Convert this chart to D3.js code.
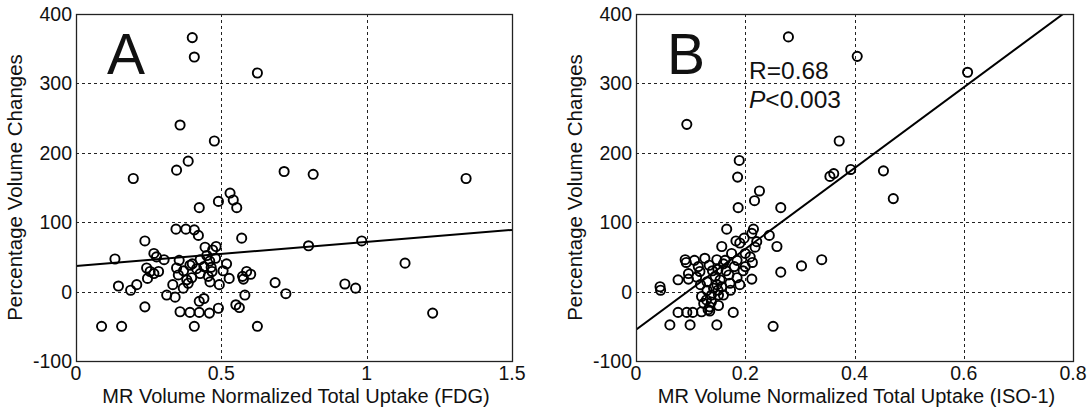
<!DOCTYPE html>
<html>
<head>
<meta charset="utf-8">
<script src="https://cdn.jsdelivr.net/npm/d3@7"></script>
<style>
  body { margin: 0; background: #fff; }
  svg { display: block; }
  text { font-family: Arial, "Liberation Sans", sans-serif; fill: #111; }
</style>
</head>
<body>
<svg id="chart" width="1090" height="409"></svg>
<script>
// panel A: FDG uptake vs percentage volume change
const fdgUptake = [0.40, 0.407, 0.624, 0.358, 0.476, 0.386, 0.346, 0.197, 0.716, 0.816,
    1.342, 0.53, 0.541, 0.553, 0.49, 0.424, 0.344, 0.378, 0.407, 0.421,
    0.57, 0.237, 0.444, 0.482, 0.80, 0.983, 0.134, 0.268, 0.277, 0.303,
    0.355, 0.427, 0.518, 0.243, 0.255, 0.268, 0.284, 0.246, 0.346, 0.352,
    0.392, 0.381, 0.386, 0.333, 0.369, 0.427, 0.46, 0.465, 0.468, 0.455,
    0.461, 0.493, 0.527, 0.573, 0.587, 0.601, 0.576, 0.685, 0.722, 0.581,
    0.925, 0.962, 1.132, 1.227, 0.146, 0.188, 0.209, 0.312, 0.341, 0.424,
    0.44, 0.55, 0.562, 0.49, 0.459, 0.424, 0.392, 0.358, 0.237, 0.088,
    0.157, 0.407, 0.624, 0.40, 0.415, 0.44, 0.48, 0.37, 0.398, 0.45,
    0.506, 0.47];
const fdgChange = [366, 338, 315, 240, 217, 188, 175, 163, 173, 169,
    163, 142, 132, 121, 130, 121, 90, 90, 89, 81,
    77, 73, 64, 65, 66, 73, 47, 55, 50, 46,
    45, 46, 40, 34, 29, 26, 29, 19, 34, 24,
    38, 17, 12, 10, 5, 26, 44, 35, 29, 22,
    14, 10, 19, 22, 29, 25, 18, 13, -3, -5,
    11, 5, 41, -31, 8, 2, 10, -5, -8, -14,
    -10, -19, -23, -24, -31, -30, -30, -29, -22, -50,
    -50, -50, -50, 40, 33, 36, 48, 30, 20, 52,
    30, 60];

// panel B: ISO-1 uptake vs percentage volume change
const isoUptake = [0.279, 0.405, 0.607, 0.093, 0.372, 0.189, 0.393, 0.453, 0.362, 0.355,
    0.186, 0.226, 0.471, 0.217, 0.187, 0.265, 0.166, 0.215, 0.212, 0.244,
    0.198, 0.183, 0.221, 0.258, 0.157, 0.218, 0.303, 0.34, 0.265, 0.09,
    0.092, 0.044, 0.045, 0.077, 0.096, 0.096, 0.126, 0.148, 0.111, 0.117,
    0.114, 0.209, 0.213, 0.20, 0.196, 0.212, 0.19, 0.062, 0.099, 0.148,
    0.251, 0.178, 0.077, 0.093, 0.104, 0.12, 0.135, 0.151, 0.16, 0.12,
    0.124, 0.129, 0.135, 0.132, 0.138, 0.151, 0.157, 0.172, 0.154, 0.134,
    0.14, 0.145, 0.13, 0.16, 0.165, 0.17, 0.18, 0.185, 0.175, 0.163,
    0.142, 0.148, 0.15, 0.13, 0.185, 0.19, 0.118, 0.173, 0.20, 0.138,
    0.15, 0.107];
const isoChange = [367, 339, 316, 241, 217, 189, 176, 174, 170, 166,
    165, 145, 134, 131, 121, 121, 90, 90, 84, 81,
    77, 73, 72, 65, 65, 64, 37, 46, 28, 46,
    42, 7, 2, 17, 18, 26, 48, 46, 21, 29,
    36, 50, 42, 36, 30, 18, 70, -48, -48, -48,
    -50, -30, -30, -30, -30, -29, -28, -20, -5, -7,
    -17, -12, -22, -26, -15, -5, 7, 12, 17, 38,
    30, 22, 14, 40, 30, 24, 36, 45, 55, 45,
    5, 10, 2, 2, 20, 10, 10, 2, 55, -5,
    32, 45];

// linear fits [intercept, slope]
const fdgFit = [37, 34.6];
const isoFit = [-55, 582];

const yTicks = [-100, 0, 100, 200, 300, 400];
const fdgTicks = [0, 0.5, 1, 1.5];
const isoTicks = [0, 0.2, 0.4, 0.6, 0.8];

const svg = d3.select("#chart");
const plotTop = 14, plotBottom = 361;

function drawPanel(opts) {
    const g = svg.append("g");
    const x = d3.scaleLinear().domain(opts.xDomain).range([opts.left, opts.right]);
    const y = d3.scaleLinear().domain([-100, 400]).range([plotBottom, plotTop]);

    const clipId = "clip" + opts.letter;
    g.append("clipPath").attr("id", clipId)
        .append("rect")
        .attr("x", opts.left).attr("y", plotTop)
        .attr("width", opts.right - opts.left).attr("height", plotBottom - plotTop);

    // dotted grid
    g.append("g").selectAll("line")
        .data(yTicks.slice(1, -1))
        .join("line")
        .attr("x1", opts.left).attr("x2", opts.right)
        .attr("y1", d => Math.round(y(d)) + 0.5).attr("y2", d => Math.round(y(d)) + 0.5)
        .attr("stroke", "#222").attr("stroke-width", 1).attr("stroke-dasharray", "3,3");
    g.append("g").selectAll("line")
        .data(opts.xTicks.slice(1, -1))
        .join("line")
        .attr("x1", d => Math.round(x(d)) + 0.5).attr("x2", d => Math.round(x(d)) + 0.5)
        .attr("y1", plotTop).attr("y2", plotBottom)
        .attr("stroke", "#222").attr("stroke-width", 1).attr("stroke-dasharray", "3,3");

    // points
    const pts = opts.xs.map((v, i) => [v, opts.ys[i]]);
    g.append("g").selectAll("circle")
        .data(pts)
        .join("circle")
        .attr("cx", d => x(d[0]))
        .attr("cy", d => y(d[1]))
        .attr("r", 4.6)
        .attr("fill", "none")
        .attr("stroke", "#000")
        .attr("stroke-width", 1.9);

    // fit line
    const fx = opts.xDomain;
    g.append("line")
        .attr("clip-path", `url(#${clipId})`)
        .attr("x1", x(fx[0])).attr("y1", y(opts.fit[0] + opts.fit[1] * fx[0]))
        .attr("x2", x(fx[1])).attr("y2", y(opts.fit[0] + opts.fit[1] * fx[1]))
        .attr("stroke", "#000").attr("stroke-width", 2);

    // box
    g.append("rect")
        .attr("x", opts.left + 0.5).attr("y", plotTop + 0.5)
        .attr("width", opts.right - opts.left).attr("height", plotBottom - plotTop)
        .attr("fill", "none").attr("stroke", "#222").attr("stroke-width", 1.3);

    // tick labels
    g.append("g").selectAll("text")
        .data(yTicks)
        .join("text")
        .attr("x", opts.left - 4)
        .attr("y", d => y(d) + 7)
        .attr("text-anchor", "end")
        .attr("font-size", 19.5)
        .text(d => d);
    g.append("g").selectAll("text")
        .data(opts.xTicks)
        .join("text")
        .attr("x", d => x(d))
        .attr("y", 380)
        .attr("text-anchor", "middle")
        .attr("font-size", 19.5)
        .text(d => d);

    // axis titles
    g.append("text")
        .attr("x", (opts.left + opts.right) / 2 + 2)
        .attr("y", 403)
        .attr("text-anchor", "middle")
        .attr("font-size", 20)
        .text(opts.xLabel);
    g.append("text")
        .attr("transform", `translate(${opts.left - 54},${(plotTop + plotBottom) / 2}) rotate(-90)`)
        .attr("text-anchor", "middle")
        .attr("font-size", 20.5)
        .text("Percentage Volume Changes");

    // panel letter
    g.append("text")
        .attr("x", opts.left + 31)
        .attr("y", 74)
        .attr("font-size", 57)
        .text(opts.letter);
    return { g, x, y };
}

drawPanel({
    letter: "A", left: 76, right: 512, xDomain: [0, 1.5], xTicks: fdgTicks,
    xs: fdgUptake, ys: fdgChange, fit: fdgFit,
    xLabel: "MR Volume Normalized Total Uptake (FDG)"
});

const b = drawPanel({
    letter: "B", left: 636, right: 1073, xDomain: [0, 0.8], xTicks: isoTicks,
    xs: isoUptake, ys: isoChange, fit: isoFit,
    xLabel: "MR Volume Normalized Total Uptake (ISO-1)"
});

// correlation note
b.g.append("text")
    .attr("x", 749).attr("y", 79)
    .attr("font-size", 24.5)
    .text("R=0.68");
const pt = b.g.append("text")
    .attr("x", 749).attr("y", 108)
    .attr("font-size", 24.5);
pt.append("tspan").attr("font-style", "italic").text("P");
pt.append("tspan").text("<0.003");
</script>
</body>
</html>
